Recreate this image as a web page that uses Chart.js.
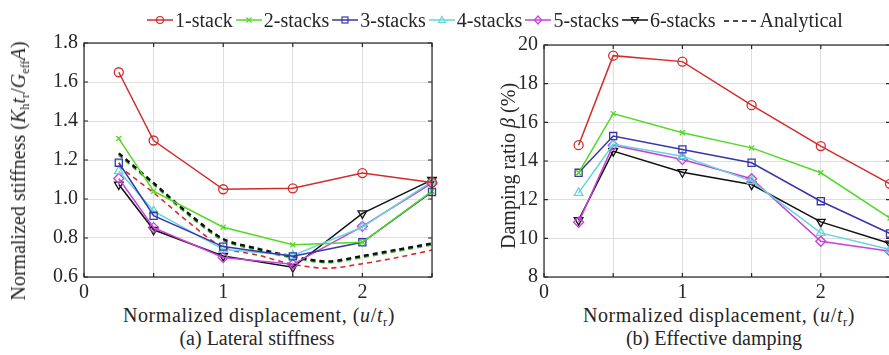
<!DOCTYPE html>
<html>
<head>
<meta charset="utf-8">
<script src="https://cdn.jsdelivr.net/npm/chart.js@4/dist/chart.umd.min.js"></script>
<style>
  html, body { margin:0; padding:0; background:#fff; }
  body { width:889px; height:355px; overflow:hidden; position:relative; font-family:'Liberation Serif', serif; color:#262626; }
  .abs { position:absolute; white-space:nowrap; font-size:20px; line-height:1; font-family:'Liberation Serif', serif; }
  .c { transform:translate(-50%,-50%); }
  .xt { letter-spacing:0.6px; }
  .rot { transform:translate(-50%,-50%) rotate(-90deg); }
  sub { font-size:0.62em; vertical-align:-0.3em; line-height:0; }
  #legend { position:absolute; left:147px; top:8px; display:flex; align-items:center; font-size:20px; line-height:24px; white-space:nowrap; font-family:'Liberation Serif', serif; }
  #legend .it { display:flex; align-items:center; margin-right:3px; }
  #legend svg { margin-right:2px; }
  canvas { position:absolute; top:0; }
</style>
</head>
<body>
<canvas id="left" width="440" height="300" style="left:0;width:440px;height:300px"></canvas>
<canvas id="right" width="460" height="300" style="left:450px;width:460px;height:300px"></canvas>

<div id="legend"></div>

<div class="abs rot" style="left:18px;top:171px">Normalized stiffness (<i>K</i><sub>h</sub><i>t</i><sub>r</sub>/<i>G</i><sub>eff</sub><i>A</i>)</div>
<div class="abs rot" style="left:508px;top:166px">Damping ratio <i>β</i> (%)</div>
<div class="abs c xt" style="left:259px;top:315px">Normalized displacement, (<i>u</i>/<i>t</i><sub>r</sub>)</div>
<div class="abs c xt" style="left:719px;top:315px">Normalized displacement, (<i>u</i>/<i>t</i><sub>r</sub>)</div>
<div class="abs c" style="left:257px;top:338px">(a) Lateral stiffness</div>
<div class="abs c" style="left:714px;top:338px">(b) Effective damping</div>

<script>
// ---------- DATA ----------
const seriesNames = ['1-stack', '2-stacks', '3-stacks', '4-stacks', '5-stacks', '6-stacks'];
const xDisp = [0.25, 0.5, 1, 1.5, 2, 2.5];

const stiff1 = [1.65, 1.30, 1.05, 1.055, 1.133, 1.085];
const stiff2 = [1.31, 1.04, 0.855, 0.765, 0.778, 1.04];
const stiff3 = [1.186, 0.914, 0.756, 0.706, 0.778, 1.036];
const stiff4 = [1.143, 0.938, 0.742, 0.71, 0.856, 1.09];
const stiff5 = [1.105, 0.853, 0.70, 0.665, 0.86, 1.082];
const stiff6 = [1.074, 0.842, 0.708, 0.65, 0.926, 1.098];

const xAnalytical = [0.25, 0.5, 0.75, 1, 1.25, 1.5, 1.75, 2, 2.25, 2.5];
const anaBlack = [1.234, 1.082, 0.926, 0.795, 0.745, 0.705, 0.68, 0.708, 0.74, 0.772];
const anaGreen = [1.226, 1.074, 0.918, 0.788, 0.738, 0.699, 0.674, 0.701, 0.733, 0.765];
const anaRed   = [1.168, 1.032, 0.882, 0.752, 0.712, 0.665, 0.645, 0.668, 0.70, 0.738];

const damp1 = [14.82, 19.45, 19.14, 16.89, 14.77, 12.82];
const damp2 = [13.39, 16.45, 15.46, 14.68, 13.39, 11.05];
const damp3 = [13.39, 15.29, 14.60, 13.91, 11.92, 10.25];
const damp4 = [12.35, 14.86, 14.25, 12.96, 10.28, 9.42];
const damp5 = [10.83, 14.82, 14.08, 13.08, 9.85, 9.33];
const damp6 = [10.94, 14.51, 13.42, 12.78, 10.85, 9.73];

const xTickValues = [0, 0.5, 1, 1.5, 2, 2.5];
const xTickLabels = ['0', '', '1', '', '2', ''];
const stiffTickValues = [0.6, 0.8, 1.0, 1.2, 1.4, 1.6, 1.8];
const stiffTickLabels = ['0.6', '0.8', '1.0', '1.2', '1.4', '1.6', '1.8'];
const dampTickValues = [8, 10, 12, 14, 16, 18, 20];
const dampTickLabels = ['8', '10', '12', '14', '16', '18', '20'];

// ---------- STYLE ----------
const colors = ['#d42b2b', '#52d925', '#3737a8', '#62d5de', '#c741da', '#111111'];
const pStyles = ['circle', 'crossRot', 'rect', 'triangle', 'rectRot', 'triangle'];
const pRot = [0, 0, 0, 0, 0, 180];
const pRad = [4.5, 3.5, 5, 5, 5, 5];
const FONT = 'Liberation Serif';
const AXC = '#262626';
Chart.defaults.font.family = FONT;

function pts(xs, ys) { return xs.map((x, i) => ({ x, y: ys[i] })); }

function solidSets(arrs) {
  return arrs.map((a, i) => ({
    label: seriesNames[i],
    data: pts(xDisp, a),
    borderColor: colors[i],
    backgroundColor: 'rgba(0,0,0,0)',
    borderWidth: 1.5,
    pointStyle: pStyles[i],
    pointRotation: pRot[i],
    pointRadius: pRad[i],
    pointBorderWidth: 1.3,
    pointBorderColor: colors[i],
    pointBackgroundColor: 'rgba(0,0,0,0)',
    tension: 0,
    clip: false
  }));
}

function dashSet(label, ys, color, w) {
  return {
    label, data: pts(xAnalytical, ys),
    borderColor: color, backgroundColor: 'rgba(0,0,0,0)',
    borderWidth: w, borderDash: [5, 4], pointRadius: 0, tension: 0.3, clip: false
  };
}

const boxPlugin = {
  id: 'boxTicks',
  afterDraw(chart) {
    const { ctx, chartArea: a, scales: { x, y } } = chart;
    ctx.save();
    ctx.strokeStyle = AXC;
    ctx.lineWidth = 1.2;
    ctx.strokeRect(a.left, a.top, a.right - a.left, a.bottom - a.top);
    const L = 4;
    ctx.beginPath();
    x.ticks.forEach(t => {
      const px = x.getPixelForValue(t.value);
      ctx.moveTo(px, a.bottom); ctx.lineTo(px, a.bottom - L);
      ctx.moveTo(px, a.top); ctx.lineTo(px, a.top + L);
    });
    y.ticks.forEach(t => {
      const py = y.getPixelForValue(t.value);
      ctx.moveTo(a.left, py); ctx.lineTo(a.left + L, py);
      ctx.moveTo(a.right, py); ctx.lineTo(a.right - L, py);
    });
    ctx.stroke();
    ctx.restore();
  }
};

function makeChart(id, datasets, yVals, yLabels, yWidth, pad) {
  return new Chart(document.getElementById(id), {
    type: 'line',
    data: { datasets },
    options: {
      responsive: false, animation: false, devicePixelRatio: 1,
      layout: { padding: pad },
      plugins: { legend: { display: false }, tooltip: { enabled: false } },
      scales: {
        x: {
          type: 'linear', min: 0, max: 2.5,
          afterBuildTicks: s => { s.ticks = xTickValues.map(v => ({ value: v })); },
          afterFit: s => { s.height = 23; },
          grid: { color: '#dedede', lineWidth: 1, drawTicks: false },
          border: { display: false },
          ticks: { padding: 4, color: AXC, font: { family: FONT, size: 20 }, maxRotation: 0, autoSkip: false,
                   callback: (v) => xTickLabels[xTickValues.indexOf(v)] ?? '' }
        },
        y: {
          type: 'linear', min: yVals[0], max: yVals[yVals.length - 1],
          afterBuildTicks: s => { s.ticks = yVals.map(v => ({ value: v })); },
          afterFit: s => { s.width = yWidth; },
          grid: { color: '#dedede', lineWidth: 1, drawTicks: false },
          border: { display: false },
          ticks: { padding: 6, color: AXC, font: { family: FONT, size: 20 }, autoSkip: false,
                   callback: (v) => yLabels[yVals.findIndex(t => Math.abs(t - v) < 1e-9)] ?? '' }
        }
      }
    },
    plugins: [boxPlugin]
  });
}

const leftSets = [
  ...solidSets([stiff1, stiff2, stiff3, stiff4, stiff5, stiff6]),
  dashSet('Analytical', anaBlack, '#111111', 2.4),
  dashSet('Analytical (2)', anaGreen, '#3fb52a', 2),
  dashSet('Analytical (1)', anaRed, '#d42b2b', 1.6)
];
makeChart('left', leftSets, stiffTickValues, stiffTickLabels, 84, { top: 43, left: 0, right: 8, bottom: 0 });
makeChart('right', solidSets([damp1, damp2, damp3, damp4, damp5, damp6]), dampTickValues, dampTickLabels, 94, { top: 45, left: 0, right: 20, bottom: 0 });

// ---------- LEGEND (HTML) ----------
function markerSvg(i) {
  const c = colors[i];
  let m = '';
  switch (i) {
    case 0: m = `<circle cx="13" cy="7" r="3.5" fill="none" stroke="${c}" stroke-width="1.2"/>`; break;
    case 1: m = `<path d="M10.5 4.5 L15.5 9.5 M15.5 4.5 L10.5 9.5" stroke="${c}" stroke-width="1.2"/>`; break;
    case 2: m = `<rect x="10" y="4" width="6" height="6" fill="none" stroke="${c}" stroke-width="1.2"/>`; break;
    case 3: m = `<path d="M13 3.5 L16.5 9.5 L9.5 9.5 Z" fill="none" stroke="${c}" stroke-width="1.2"/>`; break;
    case 4: m = `<path d="M13 3 L16.5 7 L13 11 L9.5 7 Z" fill="none" stroke="${c}" stroke-width="1.2"/>`; break;
    case 5: m = `<path d="M13 10.5 L16.5 4.5 L9.5 4.5 Z" fill="none" stroke="${c}" stroke-width="1.2"/>`; break;
  }
  return `<svg width="26" height="14"><line x1="0" y1="7" x2="26" y2="7" stroke="${c}" stroke-width="1.5"/>${m}</svg>`;
}
const lg = document.getElementById('legend');
let html = '';
seriesNames.forEach((n, i) => { html += `<span class="it">${markerSvg(i)}<span>${n}</span></span>`; });
html += `<span class="it" style="margin-left:5px"><svg width="34" height="14"><line x1="0" y1="8" x2="34" y2="8" stroke="#111" stroke-width="1.5" stroke-dasharray="5,4"/></svg><span>Analytical</span></span>`;
lg.innerHTML = html;
</script>
</body>
</html>
